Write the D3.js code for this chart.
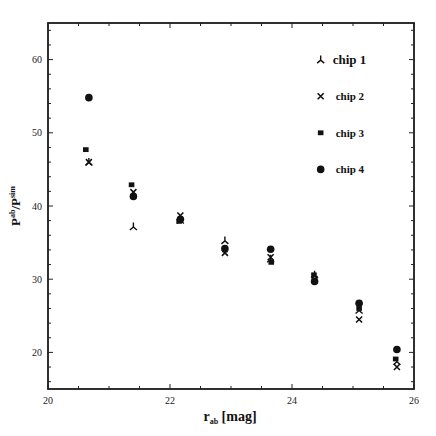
<!DOCTYPE html>
<html><head><meta charset="utf-8">
<script src="https://cdn.jsdelivr.net/npm/d3@7"></script>
<style>body{margin:0;background:#fff}svg{display:block}</style>
</head><body>
<script>
const mags  = [20.67, 21.40, 22.17, 22.90, 23.65, 24.37, 25.10, 25.72];
const mags3 = [20.62, 21.37, 22.15, 22.90, 23.66, 24.36, 25.10, 25.70];
const chip1 = [46.0, 37.2, 38.1, 35.3, 32.8, 30.6, 25.8, 18.8];
const chip2 = [46.0, 41.9, 38.7, 33.6, 33.0, 30.0, 24.5, 18.0];
const chip3 = [47.7, 42.9, 37.9, 34.0, 32.3, 30.6, 26.0, 19.1];
const chip4 = [54.8, 41.3, 38.2, 34.2, 34.1, 29.7, 26.7, 20.4];
const seriesNames = ["chip 1", "chip 2", "chip 3", "chip 4"];
const xTicks = [20, 22, 24, 26];
const yTicks = [20, 30, 40, 50, 60];

const W = 436, H = 436;
const m = {l: 48, r: 22, t: 23, b: 47};
const svg = d3.select("body").append("svg").attr("width", W).attr("height", H);
const x = d3.scaleLinear().domain([20, 26]).range([m.l, W - m.r]);
const y = d3.scaleLinear().domain([15, 65]).range([H - m.b, m.t]);
const col = "#111";

// frame
svg.append("rect").attr("x", x(20)).attr("y", y(65)).attr("width", x(26) - x(20)).attr("height", y(15) - y(65))
  .attr("fill", "none").attr("stroke", "#1a1a1a").attr("stroke-width", 1.8);

const xMinor = d3.range(20, 26.01, 0.5);
const yMinor = d3.range(16, 65, 2);
const g = svg.append("g").attr("stroke", "#222").attr("stroke-width", 1);
xMinor.forEach(v => {
  const L = xTicks.includes(v) ? 5 : 3;
  g.append("line").attr("x1", x(v)).attr("x2", x(v)).attr("y1", y(15)).attr("y2", y(15) - L);
  g.append("line").attr("x1", x(v)).attr("x2", x(v)).attr("y1", y(65)).attr("y2", y(65) + L);
});
yMinor.forEach(v => {
  const L = yTicks.includes(v) ? 5 : 3;
  g.append("line").attr("x1", x(20)).attr("x2", x(20) + L).attr("y1", y(v)).attr("y2", y(v));
  g.append("line").attr("x1", x(26)).attr("x2", x(26) - L).attr("y1", y(v)).attr("y2", y(v));
});

const tf = "'Liberation Serif', 'DejaVu Serif', serif";
svg.append("g").selectAll("text").data(xTicks).join("text")
  .attr("x", d => x(d)).attr("y", y(15) + 15).attr("text-anchor", "middle")
  .attr("font-family", tf).attr("font-size", 10).attr("fill", "#222").text(d => d);
svg.append("g").selectAll("text").data(yTicks).join("text")
  .attr("x", x(20) - 6).attr("y", d => y(d) + 3.5).attr("text-anchor", "end")
  .attr("font-family", tf).attr("font-size", 10).attr("fill", "#222").text(d => d);

// axis labels
const xl = svg.append("text").attr("x", 230).attr("y", 421).attr("text-anchor", "middle")
  .attr("font-family", tf).attr("font-size", 14).attr("font-weight", "bold").attr("fill", "#111");
xl.append("tspan").text("r");
xl.append("tspan").attr("font-size", 8).attr("dy", 3).text("ab");
xl.append("tspan").attr("dy", -3).text(" [mag]");

const yl = svg.append("text").attr("transform", `translate(20,${y(40)}) rotate(-90)`).attr("text-anchor", "middle")
  .attr("font-family", tf).attr("font-size", 13).attr("font-weight", "bold").attr("fill", "#111");
yl.append("tspan").text("P");
yl.append("tspan").attr("font-size", 8).attr("dy", -5).text("ab");
yl.append("tspan").attr("dy", 5).text("/P");
yl.append("tspan").attr("font-size", 8).attr("dy", -5).text("sim");

// markers
function marker(sel, k) {
  if (k === 0) {
    sel.append("path").attr("d", "M0,-4L0,0.5M0,0.5L-3.5,3.5M0,0.5L3.5,3.5")
      .attr("stroke", col).attr("stroke-width", 1.4).attr("fill", "none");
  } else if (k === 1) {
    sel.append("path").attr("d", "M-3,-3L3,3M-3,3L3,-3")
      .attr("stroke", col).attr("stroke-width", 1.6).attr("fill", "none");
  } else if (k === 2) {
    sel.append("rect").attr("x", -2.8).attr("y", -2.4).attr("width", 5.6).attr("height", 4.8).attr("fill", col);
  } else {
    sel.append("circle").attr("r", 3.8).attr("fill", col);
  }
}
const series = [
  {xs: mags, ys: chip1}, {xs: mags, ys: chip2}, {xs: mags3, ys: chip3}, {xs: mags, ys: chip4}
];
series.forEach((s, k) => {
  s.ys.forEach((v, i) => {
    const p = svg.append("g").attr("transform", `translate(${x(s.xs[i])},${y(v)})`);
    marker(p, k);
  });
});

// legend
const legY = [60, 55, 50, 45];
const legX = 24.47;
seriesNames.forEach((n, k) => {
  const p = svg.append("g").attr("transform", `translate(${x(legX)},${y(legY[k])})`);
  marker(p, k);
  svg.append("text").attr("x", x(legX) + (k === 0 ? 12 : 15)).attr("y", y(legY[k]) + 4)
    .attr("font-family", tf).attr("font-size", k === 0 ? 13 : 11).attr("font-weight", "bold")
    .attr("fill", "#111").text(n);
});
</script>
</body></html>
